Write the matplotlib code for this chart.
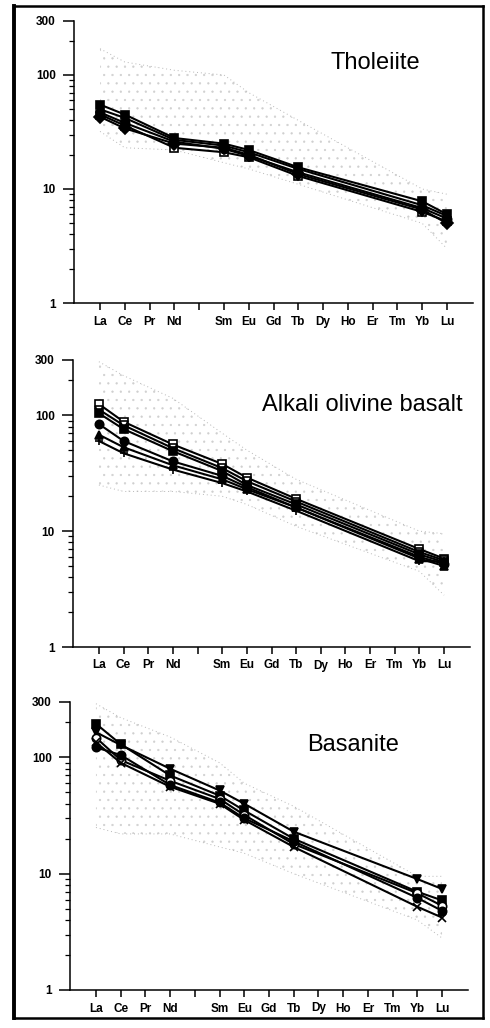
import matplotlib
matplotlib.use('Agg')
import matplotlib.pyplot as plt
from matplotlib.lines import Line2D
from matplotlib.ticker import FixedLocator, NullFormatter

plt.rcParams['font.family'] = ['Liberation Sans', 'DejaVu Sans']
plt.rcParams['hatch.linewidth'] = 0.4
plt.rcParams['hatch.color'] = '#cfcfcf'

# ---------------- data ----------------
ree_labels = ['La', 'Ce', 'Pr', 'Nd', '', 'Sm', 'Eu', 'Gd', 'Tb', 'Dy', 'Ho', 'Er', 'Tm', 'Yb', 'Lu']
measured = ['La', 'Ce', 'Nd', 'Sm', 'Eu', 'Tb', 'Yb', 'Lu']

# Tholeiite (chondrite-normalised)
th_s1 = [55, 45, 28, 25, 22, 15.5, 7.8, 6.0]
th_s2 = [50, 42, 27, 24, 21, 15.0, 7.2, 5.8]
th_s3 = [45, 36, 23, 21, 19, 13.0, 6.3, 5.2]
th_s4 = [43, 34, 25, 23, 20, 13.5, 6.6, 5.0]
th_s5 = [47, 38, 26, 22.5, 19.5, 14.0, 6.8, 5.5]
th_field_hi = [170, 130, 110, 100, 70, 40, 10, 9]
th_field_lo = [32, 23, 22, 17, 15, 11, 5, 3]

# Alkali olivine basalt
ab_s1 = [125, 88, 56, 38, 29, 19, 7.0, 5.8]
ab_s2 = [112, 82, 52, 35, 27, 18, 6.6, 5.6]
ab_s3 = [104, 76, 49, 33, 25, 17, 6.3, 5.4]
ab_s4 = [84, 60, 40, 30, 24, 16, 6.0, 5.2]
ab_s5 = [68, 53, 37, 28, 23, 16, 5.8, 5.0]
ab_s6 = [60, 47, 34, 26, 22, 15, 5.5, 5.5]
ab_field_hi = [290, 220, 140, 70, 50, 28, 10, 9.5]
ab_field_lo = [25, 22, 22, 20, 17, 11, 4.5, 2.8]

# Basanite
bs_s1 = [165, 128, 80, 52, 40, 23, 9.0, 7.4]
bs_s2 = [195, 130, 70, 47, 35, 20, 7.0, 5.9]
bs_s3 = [148, 95, 63, 44, 32, 18, 6.8, 5.3]
bs_s4 = [122, 105, 58, 41, 30, 19, 6.2, 4.8]
bs_s5 = [135, 90, 56, 40, 29, 17, 5.2, 4.2]
bs_field_hi = [290, 220, 150, 90, 60, 38, 9.5, 9.5]
bs_field_lo = [25, 22, 22, 17, 15, 10, 4.0, 2.8]

ytick_vals = [1, 10, 100, 300]
ytick_labels = ['1', '10', '100', '300']

# ---------------- figure ----------------
W, H = 490, 1028
fig = plt.figure(figsize=(W / 100, H / 100), dpi=100)

xpos = list(range(len(ree_labels)))
xm = [ree_labels.index(e) for e in measured]

panels = [
    dict(box=(74, 20.6, 473, 303), title='Tholeiite', tpos=(375, 63),
         field=(th_field_lo, th_field_hi),
         series=[(th_s1, 's', 'k'), (th_s2, '^', 'k'), (th_s3, 's', 'w'),
                 (th_s4, 'D', 'k'), (th_s5, 'o', 'k')]),
    dict(box=(73, 360, 470, 647), title='Alkali olivine basalt', tpos=(362, 405),
         field=(ab_field_lo, ab_field_hi),
         series=[(ab_s1, 's', 'w'), (ab_s2, 'v', 'w'), (ab_s3, 's', 'k'),
                 (ab_s4, 'o', 'k'), (ab_s5, '^', 'k'), (ab_s6, '+', 'k')]),
    dict(box=(70, 702, 468, 990), title='Basanite', tpos=(353, 745),
         field=(bs_field_lo, bs_field_hi),
         series=[(bs_s1, 'v', 'k'), (bs_s2, 's', 'k'), (bs_s3, 'o', 'w'),
                 (bs_s4, 'o', 'k'), (bs_s5, 'x', 'k')]),
]

for p in panels:
    l, t, r, b = p['box']
    ax = fig.add_axes([l / W, 1 - b / H, (r - l) / W, (b - t) / H])
    ax.set_yscale('log')
    ax.set_ylim(1, 300)
    ax.set_xlim(-1.05, 15.05)

    lo, hi = p['field']
    ax.fill_between(xm, lo, hi, facecolor='none', edgecolor='#cfcfcf',
                    hatch='..', linewidth=0, zorder=1)
    ax.plot(xm, hi, ls=(0, (1, 3)), color='#b8b8b8', lw=0.7, zorder=1)
    ax.plot(xm, lo, ls=(0, (1, 3)), color='#b8b8b8', lw=0.7, zorder=1)

    for vals, mk, fc in p['series']:
        ax.plot(xm, vals, color='black', lw=1.5, marker=mk, ms=6,
                mfc=fc, mec='black', mew=1.2, zorder=3)

    for s in ['top', 'right']:
        ax.spines[s].set_visible(False)
    ax.spines['left'].set_linewidth(1.1)
    ax.spines['bottom'].set_linewidth(1.1)

    ax.yaxis.set_major_locator(FixedLocator(ytick_vals))
    ax.set_yticklabels(ytick_labels, fontsize=8.5, fontweight='bold')
    minors = [v * d for d in (1, 10, 100) for v in range(2, 10) if v * d < 300]
    ax.yaxis.set_minor_locator(FixedLocator(minors))
    ax.yaxis.set_minor_formatter(NullFormatter())
    ax.tick_params(axis='y', which='major', direction='out', length=8, width=1.1, pad=5)
    ax.tick_params(axis='y', which='minor', direction='out', length=3.5, width=0.9)

    ax.set_xticks(xpos)
    ax.set_xticklabels(ree_labels, fontsize=8.5, fontweight='bold')
    ax.tick_params(axis='x', which='major', direction='out', length=5, width=1.1, pad=4)
    ax.tick_params(axis='x', which='minor', bottom=False)

    tx, ty = p['tpos']
    fig.text(tx / W, 1 - ty / H, p['title'], fontsize=17, ha='center', va='center')

# outer frame: heavier on the left, like the scanned original
x0, x1 = 14 / W, 483 / W
y0, y1 = 1 - 1018 / H, 1 - 6 / H
fig.add_artist(Line2D([x0, x0], [y0, y1], transform=fig.transFigure, color='black', lw=2.8))
fig.add_artist(Line2D([x1, x1], [y0, y1], transform=fig.transFigure, color='black', lw=1.8))
fig.add_artist(Line2D([x0, x1], [y0, y0], transform=fig.transFigure, color='black', lw=1.8))
fig.add_artist(Line2D([x0, x1], [y1, y1], transform=fig.transFigure, color='black', lw=1.8))

fig.savefig('out.png', dpi=100)
